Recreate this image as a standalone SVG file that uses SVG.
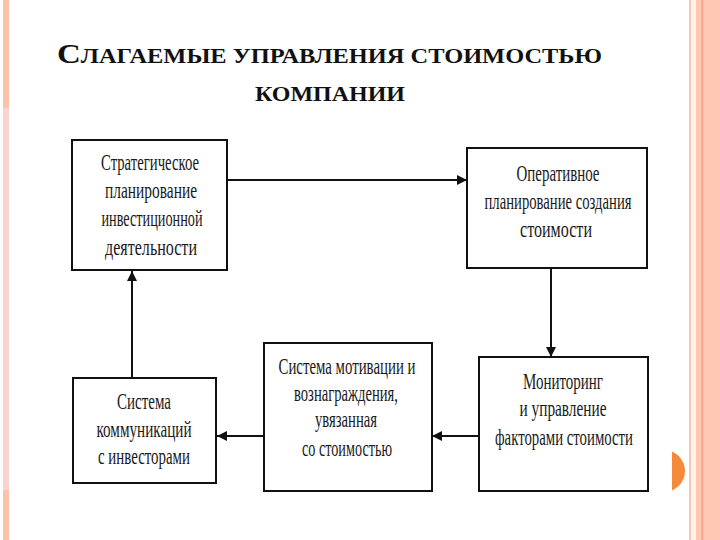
<svg xmlns="http://www.w3.org/2000/svg" width="720" height="540" viewBox="0 0 720 540">
<defs>
<style>
.box{fill:#fff;stroke:#111;stroke-width:2}
.t{font-family:"Liberation Serif","Times New Roman",serif;font-size:23px;fill:#1a1a1a;text-anchor:middle}
.ttl{font-family:"Liberation Serif","Times New Roman",serif;font-weight:bold;fill:#111}
.con{stroke:#111;stroke-width:2;fill:none}
</style>
<marker id="ah" viewBox="0 0 10 10" refX="10" refY="5" markerWidth="5" markerHeight="5" orient="auto" markerUnits="strokeWidth">
<path d="M0,0 L10,5 L0,10 z" fill="#111"/>
</marker>
<clipPath id="cc"><rect x="672" y="0" width="30" height="540"/></clipPath>
</defs>
<rect width="720" height="540" fill="#fff"/>
<rect x="3" y="0" width="6" height="108" fill="#fcc3ab"/>
<rect x="3" y="108" width="6" height="382" fill="#fbd3d3"/>
<rect x="3" y="490" width="6" height="50" fill="#fcc3ab"/>
<rect x="689" y="0" width="2" height="540" fill="#f2c9b6"/>
<rect x="691" y="0" width="5" height="540" fill="#fff3e6"/>
<rect x="696" y="0" width="24" height="540" fill="#fdc9b5"/>
<rect x="701.5" y="0" width="1.5" height="540" fill="#f4a287"/>
<circle cx="664" cy="471" r="21" fill="#f48a3a" clip-path="url(#cc)"/>
<text class="ttl" x="57" y="63" font-size="20" textLength="545" lengthAdjust="spacingAndGlyphs"><tspan font-size="27">С</tspan>ЛАГАЕМЫЕ УПРАВЛЕНИЯ СТОИМОСТЬЮ</text>
<text class="ttl" x="255" y="101" font-size="20" textLength="150" lengthAdjust="spacingAndGlyphs">КОМПАНИИ</text>
<g id="connectors">
<line class="con" x1="228" y1="180" x2="467" y2="180" marker-end="url(#ah)"/>
<line class="con" x1="551" y1="268" x2="551" y2="357" marker-end="url(#ah)"/>
<line class="con" x1="479" y1="436" x2="432" y2="436" marker-end="url(#ah)"/>
<line class="con" x1="264" y1="436" x2="217" y2="436" marker-end="url(#ah)"/>
<line class="con" x1="132" y1="378" x2="132" y2="271" marker-end="url(#ah)"/>
</g>
<g id="n1">
<rect class="box" x="72" y="140" width="155" height="130"/>
<text class="t" x="150" y="170" textLength="98" lengthAdjust="spacingAndGlyphs">Стратегическое</text>
<text class="t" x="151" y="198" textLength="92" lengthAdjust="spacingAndGlyphs">планирование</text>
<text class="t" x="152" y="226" textLength="101" lengthAdjust="spacingAndGlyphs">инвестиционной</text>
<text class="t" x="151" y="255" textLength="92" lengthAdjust="spacingAndGlyphs">деятельности</text>
</g>
<g id="n2">
<rect class="box" x="467" y="148" width="180" height="120"/>
<text class="t" x="558" y="181" textLength="83" lengthAdjust="spacingAndGlyphs">Оперативное</text>
<text class="t" x="558" y="209" textLength="147" lengthAdjust="spacingAndGlyphs">планирование создания</text>
<text class="t" x="556" y="237" textLength="72" lengthAdjust="spacingAndGlyphs">стоимости</text>
</g>
<g id="n3">
<rect class="box" x="479" y="357" width="169" height="134"/>
<text class="t" x="563" y="389" textLength="80" lengthAdjust="spacingAndGlyphs">Мониторинг</text>
<text class="t" x="563" y="416" textLength="87" lengthAdjust="spacingAndGlyphs">и управление</text>
<text class="t" x="564" y="445" textLength="138" lengthAdjust="spacingAndGlyphs">факторами стоимости</text>
</g>
<g id="n4">
<rect class="box" x="264" y="343" width="168" height="148"/>
<text class="t" x="347" y="374" textLength="137" lengthAdjust="spacingAndGlyphs">Система мотивации и</text>
<text class="t" x="346" y="401" textLength="104" lengthAdjust="spacingAndGlyphs">вознаграждения,</text>
<text class="t" x="346" y="427" textLength="62" lengthAdjust="spacingAndGlyphs">увязанная</text>
<text class="t" x="347" y="456" textLength="90" lengthAdjust="spacingAndGlyphs">со стоимостью</text>
</g>
<g id="n5">
<rect class="box" x="73" y="378" width="143" height="105"/>
<text class="t" x="144" y="409" textLength="54" lengthAdjust="spacingAndGlyphs">Система</text>
<text class="t" x="144" y="437" textLength="95" lengthAdjust="spacingAndGlyphs">коммуникаций</text>
<text class="t" x="144" y="464" textLength="92" lengthAdjust="spacingAndGlyphs">с инвесторами</text>
</g>
</svg>
